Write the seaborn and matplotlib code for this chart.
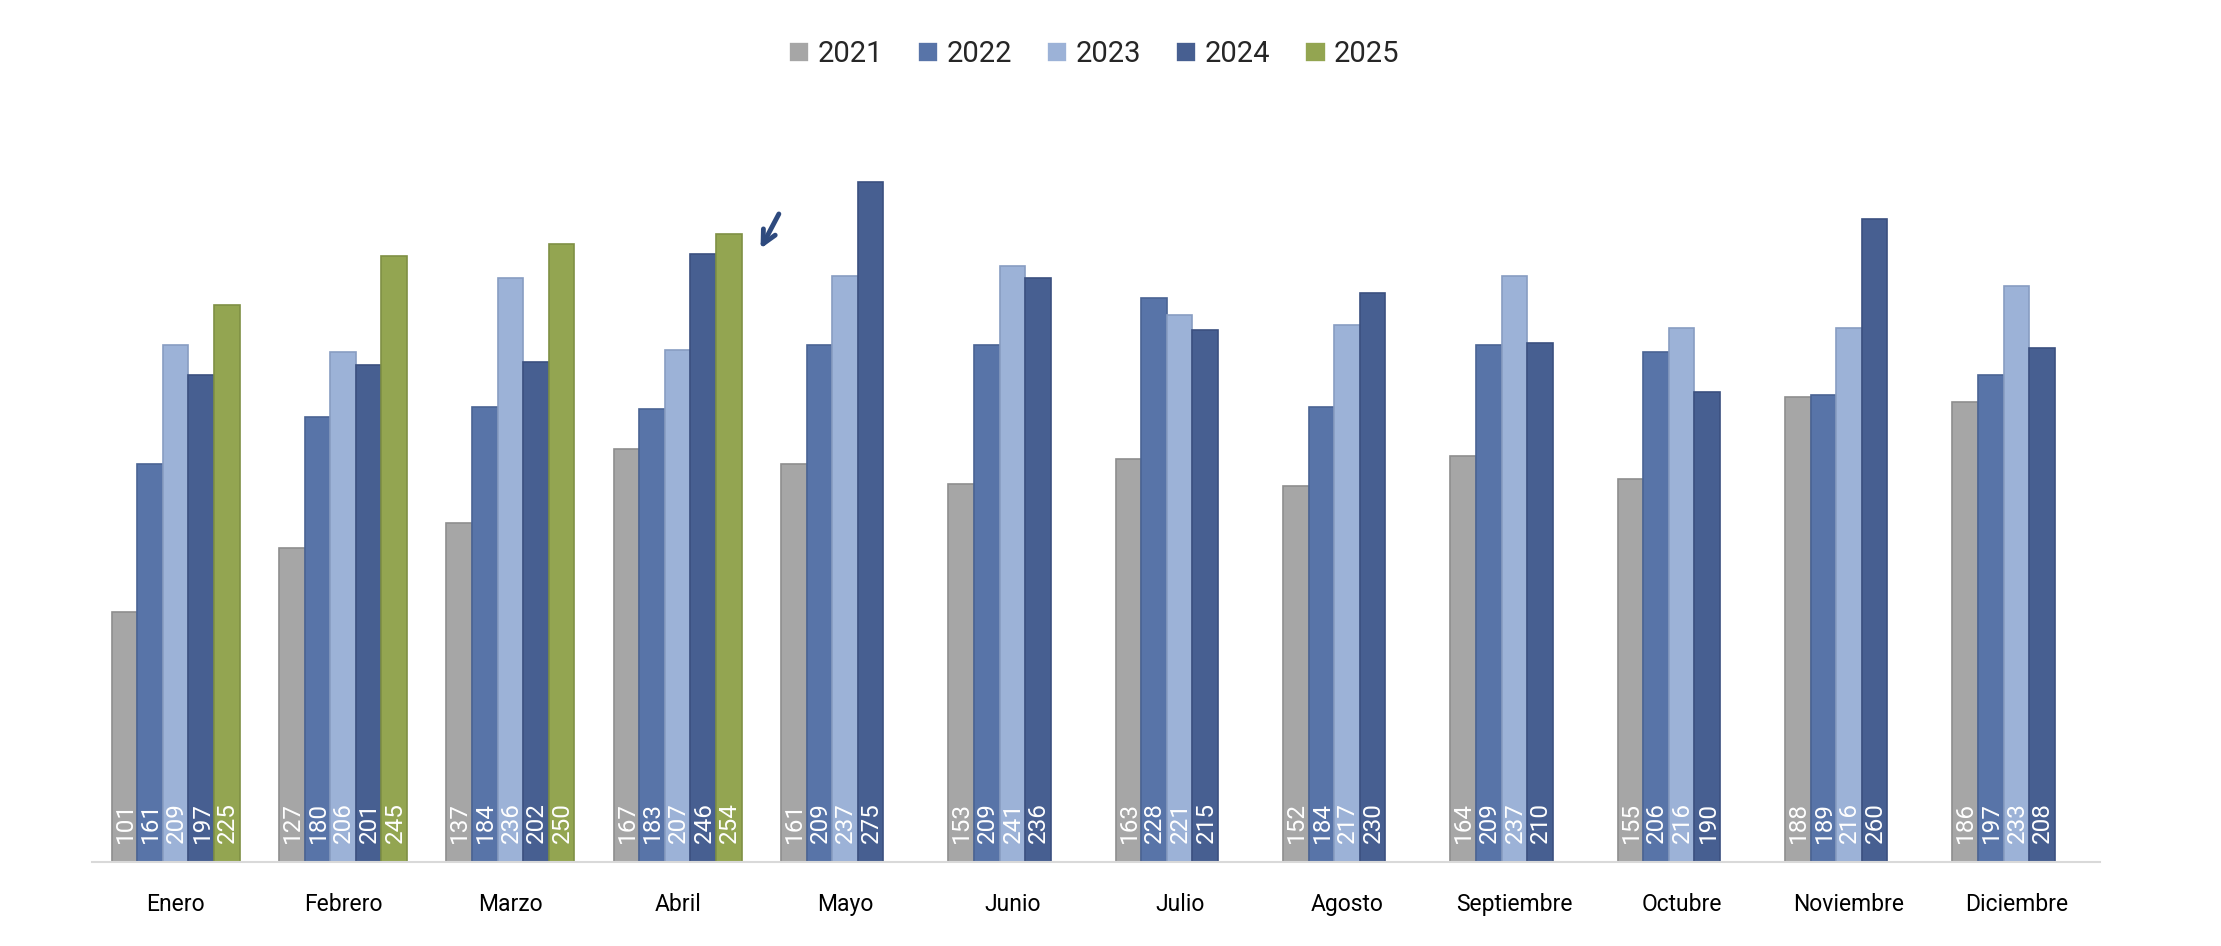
import pandas as pd
import numpy as np
import matplotlib
matplotlib.use('Agg')
import matplotlib.pyplot as plt
import seaborn as sns

# datos
meses = ['Enero', 'Febrero', 'Marzo', 'Abril', 'Mayo', 'Junio', 'Julio',
         'Agosto', 'Septiembre', 'Octubre', 'Noviembre', 'Diciembre']
anios = ['2021', '2022', '2023', '2024', '2025']
v2021 = [101, 127, 137, 167, 161, 153, 163, 152, 164, 155, 188, 186]
v2022 = [161, 180, 184, 183, 209, 209, 228, 184, 209, 206, 189, 197]
v2023 = [209, 206, 236, 207, 237, 241, 221, 217, 237, 216, 216, 233]
v2024 = [197, 201, 202, 246, 275, 236, 215, 230, 210, 190, 260, 208]
v2025 = [225, 245, 250, 254, np.nan, np.nan, np.nan, np.nan, np.nan, np.nan, np.nan, np.nan]
colores = ['#a6a6a6', '#5874a8', '#9cb2d7', '#475f91', '#93a551']
bordes = ['#8e8e8e', '#4a6494', '#889dc2', '#3b5080', '#7f9044']

series = [v2021, v2022, v2023, v2024, v2025]
df = pd.DataFrame({
    'mes': meses * len(anios),
    'anio': [a for a in anios for _ in meses],
    'valor': [v for s in series for v in s],
})

sns.set_style('white')
plt.rcParams['font.family'] = ['Roboto', 'DejaVu Sans']

fig = plt.figure(figsize=(22.21, 9.46), dpi=100)
ax = fig.add_axes([92 / 2221, 84 / 946, 2008 / 2221, 742 / 946])

sns.barplot(data=df, x='mes', y='valor', hue='anio', order=meses, hue_order=anios,
            palette=colores, saturation=1, width=0.765, errorbar=None, ax=ax,
            linewidth=1.2)

# bordes y etiquetas dentro de la base de cada barra
for cont, borde in zip(ax.containers, bordes):
    for bar in cont:
        h = bar.get_height()
        bar.set_edgecolor(borde)
        if np.isnan(h) or h == 0:
            continue
        ax.annotate(f'{int(h)}', xy=(bar.get_x() + bar.get_width() / 2, 0),
                    xytext=(0.5, 13.5), textcoords='offset points',
                    rotation=90, ha='center', va='bottom',
                    color='white', fontsize=17.5)

ax.set_ylim(0, 300)
ax.set_xlim(-0.5, len(meses) - 0.5)
ax.set_xlabel('')
ax.set_ylabel('')
ax.set_yticks([])
for s in ['top', 'right', 'left']:
    ax.spines[s].set_visible(False)
ax.spines['bottom'].set_color('#d9d9d9')
ax.spines['bottom'].set_linewidth(1.5)
ax.tick_params(axis='x', length=0, pad=22, labelsize=16.5, labelcolor='black')

# flecha junto a Abril 2025
b = ax.containers[4][3]
bx = b.get_x() + b.get_width()
by = b.get_height()
ax.annotate('', xy=(bx + 0.105, by - 7), xytext=(bx + 0.23, by + 9),
            arrowprops=dict(arrowstyle='->', lw=3.5, color='#2e4a7e',
                            mutation_scale=24))

handles, labels = ax.get_legend_handles_labels()
ax.legend_.remove()
fig.legend(handles, labels, loc='center', bbox_to_anchor=(1094 / 2221, 1 - 54 / 946),
           ncol=5, frameon=False, fontsize=21, handlelength=0.7, handleheight=0.7,
           handletextpad=0.28, columnspacing=1.2)

plt.savefig('out.png', dpi=100)
